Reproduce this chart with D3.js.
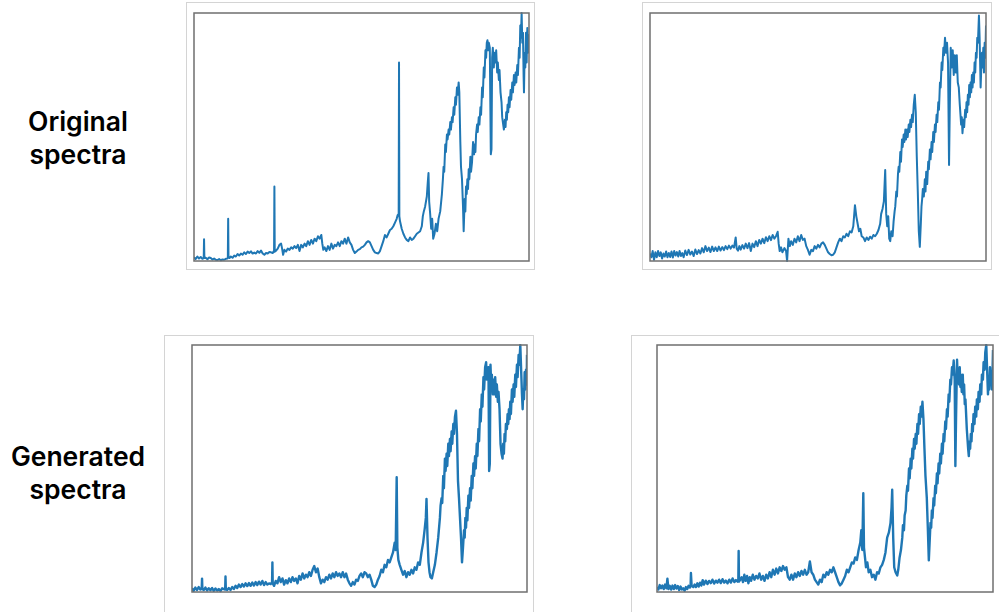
<!DOCTYPE html>
<html>
<head>
<meta charset="utf-8">
<script src="https://cdn.jsdelivr.net/npm/d3@7"></script>
<style>
  html, body { margin: 0; padding: 0; background: #fff; }
  svg { display: block; }
</style>
</head>
<body>
<svg id="chart" width="999" height="612"></svg>
<script>
// ---------- DATA (x: spectral index 0-1000, y: normalised intensity 0-100) ----------
const rowLabels = [["Original", "spectra"], ["Generated", "spectra"]];

const originalA = [[0,1.5],[5,0.8],[10,1.8],[15,1.0],[20,1.6],[25,0.9],[29,1.2],[30,8.8],[31,1.2],[35,1.3],[40,0.7],[45,1.4],[50,1.2],[55,0.6],[60,1.0],[65,0.5],[70,0.4],[75,0.8],[80,0.3],[85,0.6],[90,0.5],[95,0.9],[100,1.0],[101,1.2],[102,17],[103,1.5],[106,1.2],[110,1.8],[115,1.3],[120,2.2],[125,1.8],[130,2.8],[135,2.2],[140,3.0],[145,2.5],[150,3.5],[155,2.8],[160,3.8],[165,3.2],[170,3.9],[175,3.0],[180,3.4],[185,3.0],[190,4.0],[195,3.3],[200,4.2],[205,3.0],[210,2.5],[215,3.2],[220,3.0],[225,3.6],[230,3.5],[235,3.2],[238,4.0],[239,3.6],[240,30],[241,3.8],[245,4.2],[250,5.0],[255,6.5],[260,7.0],[263,5.0],[266,2.5],[270,4.5],[275,3.8],[280,5.0],[285,4.5],[290,5.5],[295,5.0],[300,6.0],[305,5.2],[310,6.5],[315,4.0],[320,6.5],[325,5.5],[330,7.0],[335,6.0],[340,8.0],[345,6.5],[350,8.5],[355,7.0],[360,9.0],[365,8.0],[370,10.0],[375,9.0],[380,10.5],[383,7.0],[386,4.5],[390,5.5],[395,4.0],[400,6.0],[405,4.5],[410,7.0],[415,5.0],[420,6.5],[425,6.0],[430,7.5],[435,6.0],[440,8.0],[445,7.0],[450,9.0],[455,7.0],[460,9.5],[465,7.5],[470,6.5],[475,4.5],[480,3.2],[485,3.8],[490,4.5],[495,4.8],[500,5.5],[505,5.8],[510,6.5],[515,7.5],[520,8.0],[525,7.5],[530,6.0],[535,4.5],[540,3.5],[545,3.2],[550,3.0],[555,4.0],[560,6.0],[565,8.0],[570,10.5],[575,9.5],[580,11.0],[585,12.5],[590,13.0],[595,14.0],[600,15.5],[605,17.0],[608,18.5],[611,19],[612,80],[613,18],[615,16],[620,13.0],[625,11.0],[630,9.5],[635,8.5],[640,8.0],[645,9.5],[650,8.5],[655,9.0],[660,10.0],[665,11.0],[670,11.5],[675,12.0],[680,14.0],[683,18],[686,20],[690,22],[695,26],[698,32],[700,35.5],[702,24],[705,19],[708,13],[711,17],[714,9],[718,11],[722,15],[726,12],[730,17],[735,20],[740,27],[743,33],[745,38],[747,36],[750,47],[752,44],[755,51],[757,49],[760,53],[762,51],[765,56],[767,53],[770,58],[772,56],[775,62],[777,59],[780,66],[782,63],[785,70],[787,67],[790,72],[792,68],[795,48],[797,38],[800,33],[803,22],[805,12],[808,25],[810,20],[812,30],[814,27],[816,33],[818,29],[820,37],[822,33],[825,42],[827,36],[830,40],[833,48],[836,43],[838,47],[840,44],[842,51],[845,55],[847,52],[850,58],[852,55],[855,62],[857,59],[860,70],[862,66],[865,78],[867,74],[870,85],[872,82],[874,88],[876,89],[878,85],[880,88],[883,86],[886,43],[888,45],[890,82],[892,86],[895,78],[897,84],[900,80],[902,85],[905,76],[907,80],[910,73],[912,77],[915,68],[918,64],[920,58],[923,55],[925,53],[928,57],[930,54],[932,60],[934,57],[936,63],[938,60],[940,66],[942,62],[945,69],[947,65],[950,72],[952,68],[955,75],[957,71],[960,76],[962,72],[965,79],[967,75],[970,86],[972,82],[974,95],[976,90],[978,100],[980,88],[982,92],[984,74],[985,68],[987,84],[989,78],[991,92],[993,80],[995,94],[997,84],[999,91],[1000,88]];

const originalB = [[0,3],[4,1.5],[8,4],[12,0.5],[16,3.5],[20,1.5],[24,4],[28,2],[32,3.5],[36,1],[40,3],[44,1.8],[48,3.8],[52,1.5],[56,3.2],[60,1.6],[64,3.8],[68,1.4],[72,4],[76,2.2],[80,3.6],[84,1.8],[88,4],[92,2],[96,3.2],[100,1.5],[105,4.2],[110,2.4],[115,4.5],[120,2.6],[125,3.8],[130,2],[135,4.6],[140,2.8],[145,4.4],[150,3],[155,5.2],[160,3.5],[165,6],[170,4],[175,5.4],[180,3.6],[185,5.8],[190,4],[195,5.5],[200,4],[205,5.8],[210,4.2],[215,5.6],[220,4.4],[225,6],[230,4.8],[235,6.2],[240,5],[245,6.2],[250,5.4],[255,9.5],[258,5],[262,4.2],[266,6],[270,4.6],[275,6.4],[280,5],[285,7],[290,5.2],[295,7.2],[300,4],[305,7],[310,5.6],[315,8],[320,6],[325,8.5],[330,7],[335,9],[340,7.2],[345,9.6],[350,8],[355,10],[360,8.4],[365,10.5],[370,9],[375,10],[380,11.8],[383,7],[386,4],[390,5.5],[394,3.5],[400,5.2],[405,4],[408,0],[412,9],[416,6],[420,8],[425,6.5],[430,9],[435,7.5],[440,10],[445,8],[450,10.5],[455,8.5],[460,9],[465,6],[470,4.5],[475,2.5],[480,4.5],[485,4],[490,6],[495,5],[500,6.5],[505,5.5],[510,7],[515,7.5],[520,6.5],[525,5],[530,3.5],[535,2.8],[540,2.3],[545,2.5],[550,3.5],[555,5.5],[560,7.5],[565,9],[570,8],[575,10],[580,9.5],[585,11],[590,10],[595,12],[600,11.5],[605,14],[610,22.5],[614,18],[618,15],[622,12],[626,13],[630,10],[635,9.5],[640,8],[645,9.5],[650,8.5],[655,9.8],[660,9],[665,10.5],[670,10],[675,11],[680,12.5],[685,15],[688,19],[692,21],[696,24],[700,36.7],[703,19],[706,14],[709,18],[712,9],[715,8],[718,12],[722,10],[725,16],[728,20],[730,22],[733,28],[735,26],[738,35],[740,38],[742,36],[745,44],[747,40],[750,49],[752,46],[755,51],[757,48],[760,53],[762,49],[765,53],[767,50],[770,55],[772,52],[775,57],[777,54],[780,59],[782,56],[785,63],[788,67],[791,60],[794,42],[797,28],[800,12],[803,5.7],[806,15],[808,22],[810,25],[812,29],[815,26],[818,33],[820,28],[822,36],[825,31],[828,40],[830,37],[833,45],[835,41],[838,48],[840,44],[843,52],[845,48],[848,55],[850,52],[853,59],[855,56],[858,64],[860,61],[863,72],[865,70],[868,80],[870,77],[873,86],[875,83],[878,90],[881,84],[884,88],[887,80],[890,38.7],[892,60],[895,86],[898,78],[901,85],[904,75],[907,83],[910,76],[913,83],[916,72],[919,70],[922,63],[926,55],[928,58],[930,51.5],[933,57],[935,54],[938,61],[940,58],[942,64],[944,60],[946,67],[948,63],[950,71],[952,66],[954,72],[956,68],[958,75],[960,70],[962,76],[964,72],[966,80],[968,76],[970,84],[972,82],[974,90],[976,88],[979,99],[981,90],[984,70],[986,78],[988,84],[990,78],[992,86],[994,76],[996,88],[998,82],[1000,95]];

const generatedA = [[0,1.5],[5,0.5],[10,1.8],[15,0.8],[20,2],[25,1],[29,1.5],[30,5.4],[31,1.2],[35,0.8],[40,1.8],[45,0.6],[50,1.5],[55,0.7],[60,1.6],[65,0.5],[70,1.4],[75,0.6],[80,1.2],[85,0.4],[90,1.5],[95,1.2],[99,1.0],[100,6.3],[101,1.2],[105,0.8],[110,1.6],[115,0.8],[120,2],[125,1.2],[130,2.5],[135,1.6],[140,3],[145,2],[150,3.2],[155,2.2],[160,3.5],[165,2.4],[170,3.6],[175,2.5],[180,3.8],[185,2.6],[190,4],[195,2.8],[200,4.2],[205,3],[210,4.5],[215,2.8],[220,4],[225,3],[230,3.5],[235,3.2],[239,4],[240,12],[241,3.5],[245,2.5],[250,4.5],[255,3.5],[260,6],[265,4],[270,5.5],[275,3],[280,4.8],[285,3.5],[290,5.5],[295,4],[300,6],[305,4.5],[310,5.5],[315,3.5],[320,6.5],[325,5],[330,7.5],[335,5.5],[340,7],[345,6],[350,8],[355,6.5],[360,9],[365,10.5],[370,8],[375,9.5],[380,6],[385,3.5],[390,5],[395,4],[400,6],[405,5],[410,7],[415,5.5],[420,7.5],[425,6],[430,8],[435,6.5],[440,7.5],[445,6],[450,8],[455,6],[460,7.5],[465,5],[470,3.5],[475,2.5],[480,4],[485,3],[490,5],[495,4.5],[500,6.5],[505,7.5],[510,6],[515,8],[520,7.5],[525,6],[530,7],[535,5],[540,2.5],[545,2],[550,3],[555,5],[560,6.5],[565,9],[570,8],[575,11],[580,10],[585,13],[590,12],[595,14],[600,16],[605,20],[608,17],[611,46.5],[613,18],[616,13],[620,11],[625,9],[630,7],[635,8.5],[640,6],[645,8],[650,7],[655,9],[660,7.5],[665,10],[670,9],[675,12],[680,11],[685,16],[690,20],[695,26],[698,30],[700,37.7],[703,22],[706,12],[709,8],[712,6],[716,5.5],[720,8],[725,11],[730,16],[735,22],[740,30],[742,35],[745,38],[747,36],[750,47],[752,42],[755,54],[757,49],[760,56],[762,51],[765,60],[767,55],[770,62],[772,57],[775,65],[777,60],[780,68],[782,64],[785,71],[788,73.4],[791,64],[794,45],[797,38],[800,30],[803,22],[806,12],[809,18],[812,25],[814,22],[816,30],[818,26],[820,34],[822,29],[825,39],[827,34],[830,42],[832,37],[835,47],[837,42],[840,52],[842,47],[845,55],[847,50],[850,60],[852,55],[855,66],[857,61],[860,74],[862,69],[865,80],[867,75],[870,87],[872,82],[875,91],[878,93],[880,86],[882,88],[885,91],[887,49],[889,52],[891,92],[893,84],[895,88],[898,80],[900,86],[903,80],[905,87],[908,79],[910,84],[913,77],[915,81],[918,74],[921,60],[924,56],[927,54],[929,60],[931,56],[933,64],[935,61],[937,68],[940,66],[942,72],[944,68],[946,74],[948,70],[950,77],[952,72],[955,82],[957,77],[960,84],[962,79],[965,88],[967,83],[970,92],[972,87],[975,96],[977,92],[980,100],[983,88],[985,80],[987,74],[989,82],[991,78],[993,89],[995,82],[997,90],[999,84],[1000,96]];

const generatedB = [[0,2],[4,1],[8,2.8],[12,1.5],[16,2.6],[20,1.2],[24,3],[28,1.5],[31,5.4],[34,1.2],[38,2.5],[42,1],[46,2.6],[50,1.2],[54,2.8],[58,1.4],[62,2.4],[66,0.8],[70,2.2],[74,1],[78,1.5],[82,0.5],[86,2],[90,1.2],[94,2.5],[98,1.8],[100,2.5],[101,7.7],[103,2.5],[108,2],[112,3],[116,2],[120,3.5],[124,2.2],[128,3.8],[132,2.6],[136,4.8],[140,3],[145,4.6],[150,3.2],[155,4.5],[160,3.6],[165,5],[170,3.4],[175,4.6],[180,3.8],[185,5],[190,3.6],[195,5.2],[200,3.8],[205,4.6],[210,3.5],[215,5],[220,3.8],[225,5.5],[230,4],[235,4.8],[240,4.2],[242,4.5],[243,16.6],[244,4.2],[248,5],[252,6],[256,4],[260,7],[264,4.5],[268,6.5],[272,3.5],[276,6],[280,4.5],[285,7],[290,5],[295,6.5],[300,5.5],[305,7.5],[310,5],[315,6.5],[320,4.5],[325,7],[330,5.5],[335,8],[340,6],[345,9],[350,7],[355,9.5],[360,7.5],[365,10],[370,8.5],[375,10.5],[380,9],[385,10],[390,6],[395,5],[400,7],[405,5],[410,7.5],[415,6],[420,8],[425,6.5],[430,8.5],[435,7],[440,9],[445,7],[450,8],[455,12.4],[460,8],[465,7],[470,5],[475,4],[480,3],[485,5],[490,4],[495,7],[500,6],[505,8],[510,7],[515,9],[520,8],[525,10],[530,8],[535,6],[540,4],[545,2.7],[550,3.5],[555,5],[560,6.5],[565,9],[570,8],[575,10],[580,12],[585,11.5],[590,14],[595,13],[600,17],[605,20],[608,25],[611,17],[614,40],[616,18],[619,14],[622,10],[626,12],[630,8],[635,9],[640,6],[645,7],[650,5],[655,8],[660,7.5],[665,10],[670,11],[675,13],[680,16],[685,22],[690,24],[695,28],[698,34],[700,41.4],[703,22],[706,10],[710,8],[715,6.7],[718,9],[722,14],[726,17],[730,22],[732,27],[735,25],[737,31],[740,33],[742,39],[745,43],[747,41],[750,50],[752,46],[755,54],[757,50],[760,58],[762,54],[765,62],[767,58],[770,64],[772,60],[775,68],[777,64],[780,72],[782,68],[785,75],[787,71],[790,77],[793,70],[796,58],[799,47],[803,38],[806,26],[809,12.8],[812,22],[814,28],[816,26],[818,33],[820,30],[823,38],[825,35],[828,43],[830,40],[833,48],[835,44],[838,52],[840,48],[843,56],[845,52],[848,60],[850,56],[853,64],[855,61],[858,69],[860,66],[863,74],[865,71],[868,80],[870,77],[873,86],[875,84],[878,91],[880,88],[883,93.7],[886,86],[888,51],[890,70],[893,94],[895,86],[897,90],[899,84],[901,91],[903,83],[905,88],[907,81],[910,88],[912,80],[914,84],[916,76],[918,78],[922,66],[926,58],[928,55],[930,61],[932,58],[934,64],[936,61],[938,68],[940,65],[942,72],[945,68],[947,75],[950,71],[952,78],[955,74],[957,81],[960,77],[962,84],[965,80],[967,88],[970,86],[972,93],[975,90],[977,97],[980,100],[983,88],[985,80],[987,86],[989,82],[991,91],[993,84],[995,88],[997,82],[999,92],[1000,98]];

// ---------- LAYOUT ----------
const panels = [
  { data: originalA,  frame: [194, 13, 529, 261],  outer: [186, 2, 534, 269],   width: 2 },
  { data: originalB,  frame: [650, 13, 986, 261],  outer: [642, 2, 991, 269],   width: 2 },
  { data: generatedA, frame: [192, 345, 527, 592], outer: [164, 335, 533, 620], width: 2.4 },
  { data: generatedB, frame: [657, 345, 993, 592], outer: [631, 335, 1010, 620], width: 2.4 }
];

const svg = d3.select("#chart");

panels.forEach((p, i) => {
  const [ox0, oy0, ox1, oy1] = p.outer;
  svg.append("rect")
    .attr("x", ox0 + 0.5).attr("y", oy0 + 0.5)
    .attr("width", ox1 - ox0).attr("height", oy1 - oy0)
    .attr("fill", "none").attr("stroke", "#d4d4d4").attr("stroke-width", 1);

  const [x0, y0, x1, y1] = p.frame;
  const x = d3.scaleLinear().domain([0, 1000]).range([x0, x1]);
  const y = d3.scaleLinear().domain([0, 100]).range([y1, y0]);

  const clipId = "clip" + i;
  svg.append("clipPath").attr("id", clipId)
    .append("rect").attr("x", x0).attr("y", y0 - 1)
    .attr("width", x1 - x0).attr("height", y1 - y0 + 2);

  const line = d3.line().x(d => x(d[0])).y(d => y(d[1]));
  svg.append("path")
    .datum(p.data)
    .attr("clip-path", `url(#${clipId})`)
    .attr("d", line)
    .attr("fill", "none")
    .attr("stroke", "#1f77b4")
    .attr("stroke-width", p.width)
    .attr("stroke-linejoin", "round");

  svg.append("rect")
    .attr("x", x0).attr("y", y0)
    .attr("width", x1 - x0).attr("height", y1 - y0)
    .attr("fill", "none").attr("stroke", "#6f6f6f").attr("stroke-width", 1.5);
});

// row labels
const labelPos = [{ cx: 78, base: 131 }, { cx: 78, base: 466 }];
rowLabels.forEach((lines, r) => {
  lines.forEach((t, k) => {
    svg.append("text")
      .attr("x", labelPos[r].cx)
      .attr("y", labelPos[r].base + k * 33)
      .attr("text-anchor", "middle")
      .attr("font-family", "Inter, 'Noto Sans', sans-serif")
      .attr("font-weight", 600)
      .attr("font-size", 26.5)
      .attr("fill", "#000")
      .text(t);
  });
});
</script>
</body>
</html>
